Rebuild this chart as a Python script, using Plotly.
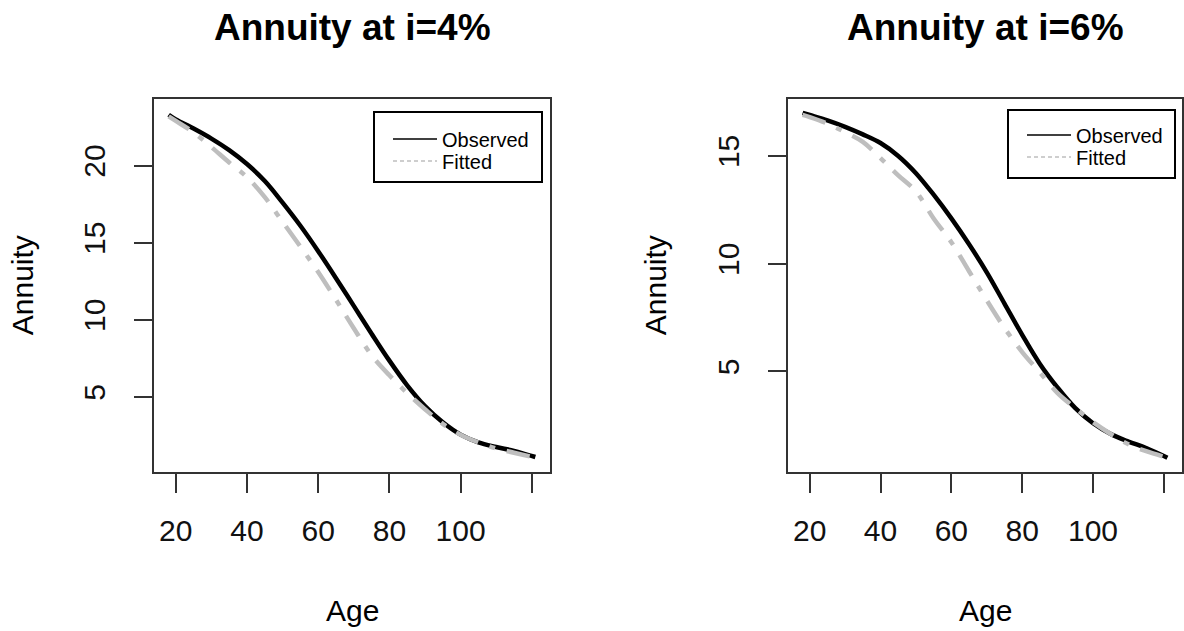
import plotly.graph_objects as go

# ---------------- data ----------------
ages = [18, 20, 25, 30, 35, 40, 45, 50, 55, 60, 65, 70, 75, 80, 85, 90, 95, 100, 105, 110, 115, 121]

observed_4 = [23.3, 23.0, 22.4, 21.75, 21.0, 20.1, 19.0, 17.6, 16.1, 14.45, 12.7, 10.9, 9.1, 7.35,
              5.75, 4.4, 3.35, 2.55, 2.05, 1.75, 1.5, 1.1]
fitted_4 = [23.2, 22.9, 22.15, 21.2, 20.2, 19.25, 17.95, 16.35, 14.75, 13.1, 11.3, 9.45, 7.7, 6.4,
            5.25, 4.2, 3.25, 2.55, 2.05, 1.65, 1.38, 1.05]

observed_6 = [17.0, 16.9, 16.65, 16.35, 16.0, 15.6, 15.0, 14.2, 13.2, 12.1, 10.9, 9.6, 8.15, 6.7,
              5.35, 4.25, 3.3, 2.6, 2.1, 1.75, 1.45, 1.0]
fitted_6 = [16.9, 16.8, 16.5, 16.1, 15.65, 14.9, 14.1, 13.35, 12.1, 11.0, 9.65, 8.3, 7.02, 5.9,
            4.95, 4.0, 3.3, 2.65, 2.1, 1.62, 1.3, 1.0]

x_tickvals = [20, 40, 60, 80, 100, 120]
x_ticktext = ["20", "40", "60", "80", "100", ""]
y_ticks_4 = [5, 10, 15, 20]
y_ticks_6 = [5, 10, 15]

titles = ["Annuity at i=4%", "Annuity at i=6%"]
series_names = ["Observed", "Fitted"]

# ---------------- layout helpers ----------------
W, H = 1184, 631
FONT = "Liberation Sans, Arial, sans-serif"
LINE_COL = "#333333"
FIT_COL = "#BEBEBE"


def px(xp):
    return xp / W


def py(yp):
    return 1 - yp / H


fig = go.Figure()

panels = [
    dict(obs=observed_4, fit=fitted_4, xa="x", ya="y", legs=("legend", "legend2")),
    dict(obs=observed_6, fit=fitted_6, xa="x2", ya="y2", legs=("legend3", "legend4")),
]

for p in panels:
    fig.add_trace(go.Scatter(x=ages, y=p["obs"], mode="lines", line=dict(color="black", width=4.5, shape="spline"),
                             xaxis=p["xa"], yaxis=p["ya"], showlegend=False, hoverinfo="x+y"))
    fig.add_trace(go.Scatter(x=ages, y=p["fit"], mode="lines",
                             line=dict(color=FIT_COL, width=4.5, dash="24px,12px,6px,12px", shape="spline"),
                             xaxis=p["xa"], yaxis=p["ya"], showlegend=False, hoverinfo="x+y"))
    # legend entries (thin samples as in the reference)
    fig.add_trace(go.Scatter(x=[None], y=[None], mode="lines", name=series_names[0],
                             line=dict(color="black", width=1.5), xaxis=p["xa"], yaxis=p["ya"],
                             legend=p["legs"][0]))
    fig.add_trace(go.Scatter(x=[None], y=[None], mode="lines", name=series_names[1],
                             line=dict(color=FIT_COL, width=1.5, dash="4px,3px"), xaxis=p["xa"], yaxis=p["ya"],
                             legend=p["legs"][1]))

common_x = dict(range=[13.88, 125.12], tickvals=x_tickvals, ticktext=x_ticktext, ticks="outside",
                ticklen=19, tickwidth=2, tickcolor=LINE_COL, showline=True, linecolor=LINE_COL, linewidth=2,
                mirror=True, showgrid=False, zeroline=False, tickfont=dict(size=30, color="#111", family=FONT),
                ticklabelstandoff=12)
common_y = dict(ticks="outside", ticklen=18, tickwidth=2, tickcolor=LINE_COL, showline=True,
                linecolor=LINE_COL, linewidth=2, mirror=True, showgrid=False, zeroline=False,
                tickangle=-90, tickfont=dict(size=30, color="#111", family=FONT), ticklabelstandoff=17)

frame_top, frame_bot = 99, 471.5
L = (154, 550)
R = (788, 1182)


def leg(xp, yc):
    # single-entry legend whose row is centred at pixel row yc
    return dict(x=px(xp), y=py(yc), xanchor="left", yanchor="middle", bgcolor="rgba(0,0,0,0)",
                borderwidth=0, font=dict(size=20, family=FONT, color="black"), itemwidth=44)


fig.update_layout(
    width=W, height=H,
    margin=dict(l=0, r=0, t=0, b=0),
    paper_bgcolor="white", plot_bgcolor="white",
    font=dict(family=FONT, color="black"),
    xaxis=dict(domain=[px(L[0]), px(L[1])], anchor="y", **common_x),
    yaxis=dict(domain=[py(frame_bot), py(frame_top)], anchor="x", range=[0.16, 24.32],
               tickvals=y_ticks_4, **common_y),
    xaxis2=dict(domain=[px(R[0]), px(R[1])], anchor="y2", **common_x),
    yaxis2=dict(domain=[py(frame_bot), py(frame_top)], anchor="x2", range=[0.36, 17.64],
                tickvals=y_ticks_6, **common_y),
    legend=leg(388, 139),
    legend2=leg(388, 161),
    legend3=leg(1022, 135),
    legend4=leg(1022, 157),
    showlegend=True,
)

# legend boxes
for (x0, y0, x1, y1) in [(374, 112, 542, 182), (1008, 110, 1175, 178)]:
    fig.add_shape(type="rect", xref="paper", yref="paper", x0=px(x0), x1=px(x1), y0=py(y1), y1=py(y0),
                  line=dict(color="black", width=2), fillcolor="rgba(0,0,0,0)")

annotations = []
for (xc, title) in [((L[0] + L[1]) / 2, titles[0]), ((R[0] + R[1]) / 2, titles[1])]:
    annotations.append(dict(text="<b>%s</b>" % title, x=px(xc), y=py(28), xref="paper", yref="paper",
                            xanchor="center", yanchor="middle", showarrow=False,
                            font=dict(size=37, family=FONT, color="black")))
    annotations.append(dict(text="Age", x=px(xc), y=py(610), xref="paper", yref="paper",
                            xanchor="center", yanchor="middle", showarrow=False,
                            font=dict(size=30, family=FONT, color="black")))
for xc in [22, 655]:
    annotations.append(dict(text="Annuity", x=px(xc), y=py((frame_top + frame_bot) / 2), xref="paper",
                            yref="paper", xanchor="center", yanchor="middle", textangle=-90, showarrow=False,
                            font=dict(size=30, family=FONT, color="black")))
fig.update_layout(annotations=annotations)

fig.write_html("out.html", config={"displayModeBar": False},
               post_script="document.body.style.margin='0';document.body.style.overflow='hidden';")
